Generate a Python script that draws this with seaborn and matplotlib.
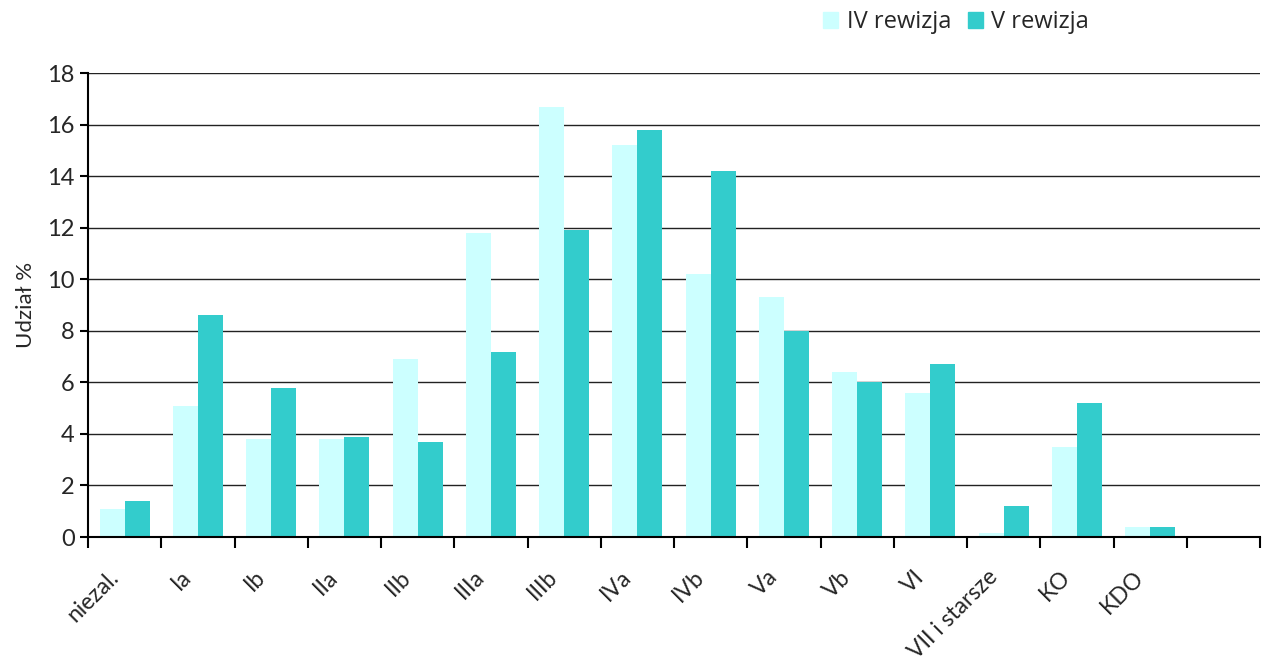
import numpy as np
import pandas as pd
import matplotlib
matplotlib.use("Agg")
import matplotlib.pyplot as plt
import matplotlib.transforms as mtransforms
import seaborn as sns

# ------------------------------
# Data
# ------------------------------
categories = ["niezal.", "Ia", "Ib", "IIa", "IIb", "IIIa", "IIIb", "IVa",
              "IVb", "Va", "Vb", "VI", "VII i starsze", "KO", "KDO"]
iv_rewizja = [1.1, 5.1, 3.8, 3.8, 6.9, 11.8, 16.7, 15.2,
              10.2, 9.3, 6.4, 5.6, 0.15, 3.5, 0.4]
v_rewizja = [1.4, 8.6, 5.8, 3.9, 3.7, 7.2, 11.9, 15.8,
             14.2, 8.0, 6.0, 6.7, 1.2, 5.2, 0.4]
series_names = ["IV rewizja", "V rewizja"]
colors = ["#CCFFFF", "#33CCCC"]

df = pd.DataFrame({
    "klasa": categories * 2,
    "udzial": iv_rewizja + v_rewizja,
    "rewizja": [series_names[0]] * len(categories) + [series_names[1]] * len(categories),
})

# one empty slot at the end, as in the original chart
order = categories + [" "]

# ------------------------------
# Plot
# ------------------------------
sns.set_style("white")
plt.rcParams["font.family"] = ["Lato", "DejaVu Sans"]

fig = plt.figure(figsize=(12.63, 6.64), dpi=100)
ax = fig.add_axes([88 / 1263, 127 / 664, 1172 / 1263, 463.7 / 664])

sns.barplot(data=df, x="klasa", y="udzial", hue="rewizja", order=order,
            hue_order=series_names, palette=colors, width=0.68,
            saturation=1, linewidth=0, ax=ax, legend=False)

ax.set_xlim(-0.5, len(order) - 0.5)
ax.set_ylim(0, 18)
ax.set_yticks(np.arange(0, 19, 2))
ax.yaxis.grid(True, color="#222222", linewidth=1.0)
ax.set_axisbelow(True)

# tick marks between categories, labels at category centres
ax.set_xticks(np.arange(-0.5, len(order), 1))
ax.set_xticklabels([])
ax.set_xticks(np.arange(len(order)), minor=True)
ax.set_xticklabels(order, minor=True, rotation=45, ha="right",
                   rotation_mode="anchor", fontsize=16.5)
ax.tick_params(axis="x", which="major", direction="out", length=8, width=1.5,
               color="black", bottom=True)
ax.tick_params(axis="x", which="minor", length=0, pad=14)
ax.tick_params(axis="y", direction="out", length=6, width=1.5, color="black",
               left=True, labelsize=17)

# shift rotated labels a little left/down, like the original
shift = mtransforms.ScaledTranslation(-17 / 100, -10 / 100, fig.dpi_scale_trans)
for lbl in ax.get_xticklabels(minor=True):
    lbl.set_transform(lbl.get_transform() + shift)

ax.set_xlabel("")
ax.set_ylabel("Udział %", fontsize=16, labelpad=8)

sns.despine(ax=ax, top=True, right=True)
for side in ["left", "bottom"]:
    ax.spines[side].set_color("black")
    ax.spines[side].set_linewidth(1.5)

handles = [plt.Rectangle((0, 0), 1, 1, color=c) for c in colors]
fig.legend(handles, series_names, loc="center left",
           bbox_to_anchor=(823 / 1263, 1 - 22 / 664), ncol=2, frameon=False,
           handlelength=0.65, handleheight=0.65, handletextpad=0.35,
           columnspacing=0.7, borderpad=0, borderaxespad=0,
           prop={"family": "Open Sans", "size": 17})

fig.savefig("out.png", dpi=100)
